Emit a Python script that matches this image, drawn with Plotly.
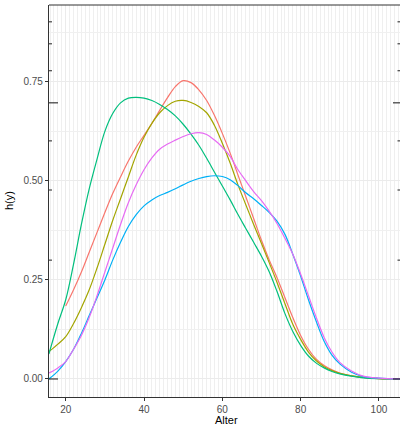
import plotly.graph_objects as go

# ---- data ----
groups = ["red", "olive", "green", "blue", "pink"]
colors = ["#F8766D", "#A3A500", "#00BF7D", "#00B0F6", "#E76BF3"]

red_x = [20, 22, 24, 26, 28, 30, 32, 34, 36, 38, 40, 42, 44, 46, 48, 50, 52, 54, 56, 58, 60, 62, 64, 66, 68, 70, 72, 74, 76, 78, 80, 82, 84, 86, 88, 90, 93, 96, 100, 105.5]
red_y = [0.184, 0.225, 0.27, 0.32, 0.37, 0.42, 0.468, 0.51, 0.55, 0.585, 0.615, 0.645, 0.678, 0.71, 0.738, 0.753, 0.748, 0.73, 0.703, 0.665, 0.62, 0.57, 0.515, 0.46, 0.405, 0.35, 0.30, 0.255, 0.205, 0.155, 0.11, 0.075, 0.05, 0.034, 0.023, 0.015, 0.008, 0.004, 0.001, 0.0]

olive_x = [15.7, 18, 20, 22, 24, 26, 28, 30, 32, 34, 36, 38, 40, 42, 44, 46, 48, 50, 52, 54, 56, 58, 60, 62, 64, 66, 68, 70, 72, 74, 76, 78, 80, 82, 84, 86, 88, 90, 93, 96, 100, 105.5]
olive_y = [0.069, 0.088, 0.107, 0.14, 0.18, 0.225, 0.28, 0.34, 0.40, 0.455, 0.51, 0.565, 0.61, 0.645, 0.672, 0.69, 0.701, 0.703, 0.698, 0.688, 0.672, 0.64, 0.595, 0.545, 0.49, 0.44, 0.39, 0.342, 0.293, 0.243, 0.19, 0.138, 0.10, 0.068, 0.046, 0.031, 0.021, 0.014, 0.008, 0.004, 0.001, 0.0]

green_x = [15.7, 18, 20, 22, 24, 26, 28, 30, 32, 34, 36, 38, 40, 42, 44, 46, 48, 50, 52, 54, 56, 58, 60, 62, 64, 66, 68, 70, 72, 74, 76, 78, 80, 82, 84, 86, 88, 90, 93, 96, 100, 105.5]
green_y = [0.063, 0.14, 0.20, 0.29, 0.39, 0.48, 0.555, 0.625, 0.67, 0.697, 0.709, 0.711, 0.709, 0.703, 0.693, 0.68, 0.664, 0.643, 0.618, 0.59, 0.557, 0.522, 0.487, 0.452, 0.415, 0.38, 0.345, 0.31, 0.27, 0.22, 0.165, 0.12, 0.085, 0.058, 0.04, 0.028, 0.019, 0.013, 0.007, 0.003, 0.001, 0.0]

blue_x = [15.7, 18, 20, 22, 24, 26, 28, 30, 32, 34, 36, 38, 40, 42, 44, 46, 48, 50, 52, 54, 56, 58, 60, 62, 64, 66, 68, 70, 72, 74, 76, 78, 80, 82, 84, 86, 88, 90, 93, 96, 100, 105.5]
blue_y = [0.0, 0.02, 0.044, 0.075, 0.115, 0.16, 0.205, 0.25, 0.30, 0.345, 0.385, 0.415, 0.437, 0.452, 0.463, 0.471, 0.48, 0.49, 0.499, 0.506, 0.511, 0.513, 0.511, 0.503, 0.488, 0.47, 0.455, 0.438, 0.42, 0.398, 0.365, 0.315, 0.26, 0.20, 0.145, 0.095, 0.06, 0.038, 0.017, 0.006, 0.002, 0.0]

pink_x = [15.7, 18, 20, 22, 24, 26, 28, 30, 32, 34, 36, 38, 40, 42, 44, 46, 48, 50, 52, 54, 56, 58, 60, 62, 64, 66, 68, 70, 72, 74, 76, 78, 80, 82, 84, 86, 88, 90, 93, 96, 100, 105.5]
pink_y = [0.015, 0.028, 0.044, 0.075, 0.11, 0.155, 0.21, 0.27, 0.33, 0.39, 0.445, 0.49, 0.528, 0.558, 0.58, 0.593, 0.603, 0.612, 0.619, 0.622, 0.617, 0.603, 0.585, 0.562, 0.528, 0.50, 0.473, 0.45, 0.423, 0.392, 0.355, 0.315, 0.265, 0.21, 0.155, 0.105, 0.068, 0.042, 0.02, 0.007, 0.002, 0.0]

series_x = [red_x, olive_x, green_x, blue_x, pink_x]
series_y = [red_y, olive_y, green_y, blue_y, pink_y]

rug_single = [0.9015, 0.846, 0.778, 0.601, 0.477, 0.300]
rug_multi = [0.697, 0.0]

x_ticks = [20, 40, 60, 80, 100]
y_ticks = [0.0, 0.25, 0.5, 0.75]
y_ticklabels = ["0.00", "0.25", "0.50", "0.75"]

# ---- figure ----
fig = go.Figure()
for name, c, xs, ys in zip(groups, colors, series_x, series_y):
    fig.add_trace(go.Scatter(x=xs, y=ys, mode="lines", name=name,
                             line=dict(color=c, width=1.2, shape="spline", smoothing=1.0),
                             showlegend=False, hoverinfo="skip"))

W = 351.0   # plot area width in px
H = 392.0   # plot area height in px
shapes = []
for v in rug_single:
    shapes.append(dict(type="line", xref="paper", yref="y", x0=0, x1=3 / W, y0=v, y1=v,
                       line=dict(color="#222222", width=1)))
    shapes.append(dict(type="line", xref="paper", yref="y", x0=1 - 2.5 / W, x1=1, y0=v, y1=v,
                       line=dict(color="#222222", width=1)))
for v in rug_multi:
    shapes.append(dict(type="line", xref="paper", yref="y", x0=0, x1=9 / W, y0=v, y1=v,
                       line=dict(color="#111111", width=1)))
    shapes.append(dict(type="line", xref="paper", yref="y", x0=1 - 7 / W, x1=1, y0=v, y1=v,
                       line=dict(color="#111111", width=1)))
# panel border: top line (left/bottom via axis lines)
shapes.append(dict(type="line", xref="paper", yref="paper", x0=0, x1=1, y0=1, y1=1,
                   line=dict(color="#333333", width=1.2)))

annotations = [
    dict(text="Alter", xref="paper", yref="paper", x=(226 - 49) / W, y=(397 - 420) / H,
         xanchor="center", yanchor="middle", showarrow=False,
         font=dict(size=11, color="black")),
    dict(text="h(y)", xref="paper", yref="paper", x=(9 - 49) / W, y=(397 - 201) / H,
         xanchor="center", yanchor="middle", showarrow=False, textangle=-90,
         font=dict(size=11, color="black")),
]

fig.update_layout(
    width=400, height=426,
    margin=dict(l=49, r=0, t=5, b=29, autoexpand=False),
    paper_bgcolor="white", plot_bgcolor="white",
    font=dict(family="Liberation Sans, Arial, sans-serif", color="#4D4D4D", size=10),
    shapes=shapes,
    annotations=annotations,
    xaxis=dict(
        range=[15.73, 105.38], tickvals=x_ticks, ticktext=[str(t) for t in x_ticks],
        showgrid=True, gridcolor="#EBEBEB", gridwidth=1,
        minor=dict(dtick=1, tick0=0, showgrid=True, gridcolor="#EFEFEF", gridwidth=1),
        zeroline=False, showline=True, linecolor="#333333", linewidth=1.2,
        ticks="outside", ticklen=3, tickcolor="#333333", tickwidth=1,
        tickfont=dict(size=10, color="#4D4D4D"), automargin=False,
    ),
    yaxis=dict(
        range=[-0.0455, 0.944], tickvals=y_ticks, ticktext=y_ticklabels,
        showgrid=True, gridcolor="#EBEBEB", gridwidth=1,
        minor=dict(dtick=0.125, tick0=0, showgrid=True, gridcolor="#F0F0F0", gridwidth=1),
        zeroline=False, showline=True, linecolor="#333333", linewidth=1.2,
        ticks="outside", ticklen=3, tickcolor="#333333", tickwidth=1,
        tickfont=dict(size=10, color="#4D4D4D"), automargin=False,
    ),
)

fig.write_html("out.html", config={"displayModeBar": False},
               post_script="document.body.style.margin='0';document.body.style.padding='0';")
